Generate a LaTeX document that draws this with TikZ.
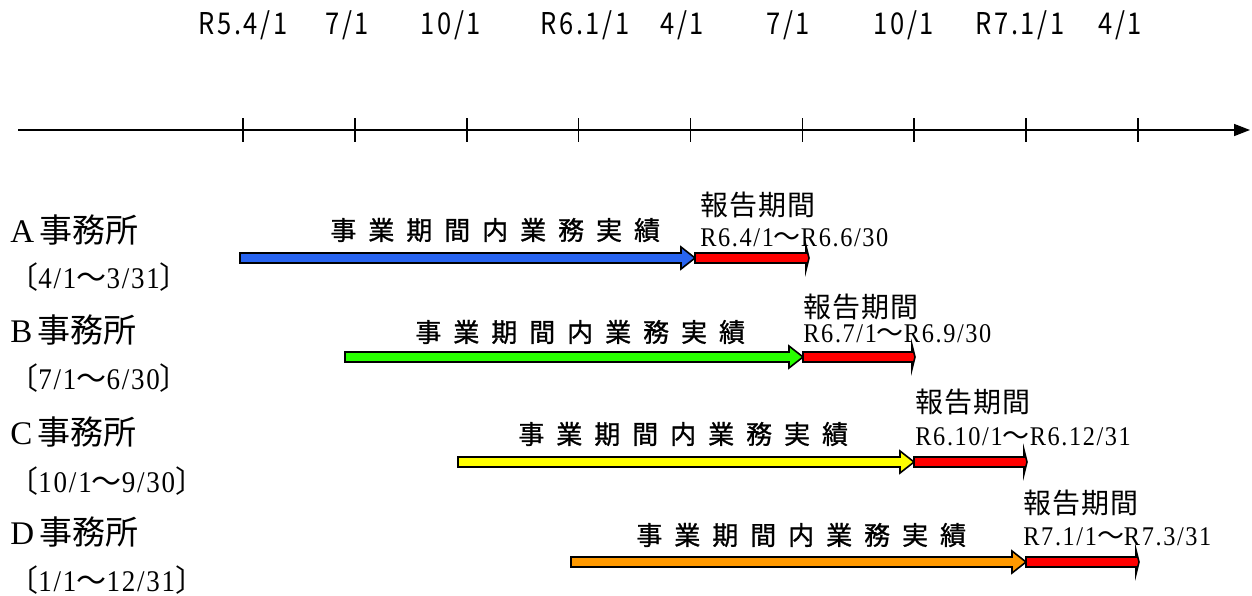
\documentclass[tikz,border=0pt]{standalone}
\usepackage{fontspec}
\usetikzlibrary{arrows.meta}
\setmainfont{Liberation Serif}
\newfontfamily\jpfont{Noto Sans CJK JP}
\newfontfamily\axisfont[FakeStretch=0.85, LetterSpace=9]{Noto Sans CJK JP}
\newfontfamily\workfont[LetterSpace=46, FakeBold=1]{Noto Sans CJK JP}
\newfontfamily\rptfont[LetterSpace=4]{Noto Sans CJK JP}
\newfontfamily\datefont[FakeStretch=0.9, LetterSpace=6]{Liberation Serif}
\newcommand{\wv}{{\jpfont ～}}
\definecolor{barblue}{RGB}{40,100,240}
\definecolor{bargreen}{RGB}{40,255,0}
\definecolor{baryellow}{RGB}{255,255,0}
\definecolor{barorange}{RGB}{255,153,0}
\definecolor{barred}{RGB}{255,0,0}
% fill colour, start x, end x, y
\newcommand{\workarrow}[4]{%
  \filldraw[fill=#1, draw=black, line width=0.8pt, line join=miter]
    (#2,#4-5) -- (#3-14,#4-5) -- (#3-14,#4-11) -- (#3,#4) -- (#3-14,#4+11)
    -- (#3-14,#4+5) -- (#2,#4+5) -- cycle;}
\newcommand{\reportbar}[3]{%
  \filldraw[fill=barred, draw=black, line width=0.8pt, line join=miter]
    (#1,#3-5) -- (#2-3,#3-5) -- (#2-3,#3-12) -- (#2,#3) -- (#2-3,#3+12)
    -- (#2-3,#3+5) -- (#1,#3+5) -- cycle;}
\tikzset{
  ticklbl/.style={anchor=west, inner sep=0pt, font=\axisfont\fontsize{15}{15}\selectfont},
  office/.style={anchor=west, inner sep=0pt, font=\fontsize{16.5}{16.5}\selectfont},
  term/.style={anchor=west, inner sep=0pt, font=\datefont\fontsize{15}{15}\selectfont},
  worklbl/.style={anchor=west, inner sep=0pt, font=\workfont\fontsize{13}{13}\selectfont},
  rptlbl/.style={anchor=west, inner sep=0pt, font=\rptfont\fontsize{14}{14}\selectfont},
  datelbl/.style={anchor=west, inner sep=0pt, font=\datefont\fontsize{13.5}{13.5}\selectfont}
}
\begin{document}
\begin{tikzpicture}[x=0.5pt, y=-0.5pt]
  \useasboundingbox (0,0) rectangle (1252,595);
  % time axis
  \coordinate (ax0) at (18,130);
  \coordinate (ax1) at (1250,130);
  \draw[line width=0.8pt, -{Stealth[length=8pt, width=6pt, inset=0pt]}] (ax0) -- (ax1);
  \foreach \i in {0,...,8}
    \draw[line width=0.8pt] (243+111.875*\i,118) -- (243+111.875*\i,142);
  \node[ticklbl] (m0) at (198,25) {R5.4/1};
  \node[ticklbl] (m1) at (325,25) {7/1};
  \node[ticklbl] (m2) at (420,25) {10/1};
  \node[ticklbl] (m3) at (540,25) {R6.1/1};
  \node[ticklbl] (m4) at (660,25) {4/1};
  \node[ticklbl] (m5) at (766,25) {7/1};
  \node[ticklbl] (m6) at (873,25) {10/1};
  \node[ticklbl] (m7) at (975,25) {R7.1/1};
  \node[ticklbl] (m8) at (1098,25) {4/1};

  % A
  \node[office] (oa) at (10,230) {A\,{\jpfont 事務所}};
  \node[term] (ta) at (8,277) {{\jpfont 〔}4/1\wv3/31{\jpfont 〕}};
  \workarrow{barblue}{240}{695}{258}
  \reportbar{695}{809}{258}
  \node[worklbl] (wa) at (330,230) {事業期間内業務実績};
  \node[rptlbl] (ra) at (700,205) {報告期間};
  \node[datelbl] (da) at (700,238) {R6.4/1\wv R6.6/30};

  % B
  \node[office] (ob) at (10,330) {B\,{\jpfont 事務所}};
  \node[term] (tb) at (8,378) {{\jpfont 〔}7/1\wv6/30{\jpfont 〕}};
  \workarrow{bargreen}{345}{803}{357}
  \reportbar{803}{915}{357}
  \node[worklbl] (wb) at (415,332) {事業期間内業務実績};
  \node[rptlbl] (rb) at (803,307) {報告期間};
  \node[datelbl] (db) at (803,334) {R6.7/1\wv R6.9/30};

  % C
  \node[office] (oc) at (10,432) {C\,{\jpfont 事務所}};
  \node[term] (tc) at (8,481) {{\jpfont 〔}10/1\wv9/30{\jpfont 〕}};
  \workarrow{baryellow}{458}{914}{462}
  \reportbar{914}{1027}{462}
  \node[worklbl] (wc) at (518,434) {事業期間内業務実績};
  \node[rptlbl] (rc) at (915,402) {報告期間};
  \node[datelbl] (dc) at (915,437) {R6.10/1\wv R6.12/31};

  % D
  \node[office] (od) at (10,532) {D\,{\jpfont 事務所}};
  \node[term] (td) at (8,580) {{\jpfont 〔}1/1\wv12/31{\jpfont 〕}};
  \workarrow{barorange}{571}{1026}{562}
  \reportbar{1026}{1139}{562}
  \node[worklbl] (wd) at (636,535) {事業期間内業務実績};
  \node[rptlbl] (rd) at (1023,503) {報告期間};
  \node[datelbl] (dd) at (1023,537) {R7.1/1\wv R7.3/31};
\end{tikzpicture}
\end{document}
